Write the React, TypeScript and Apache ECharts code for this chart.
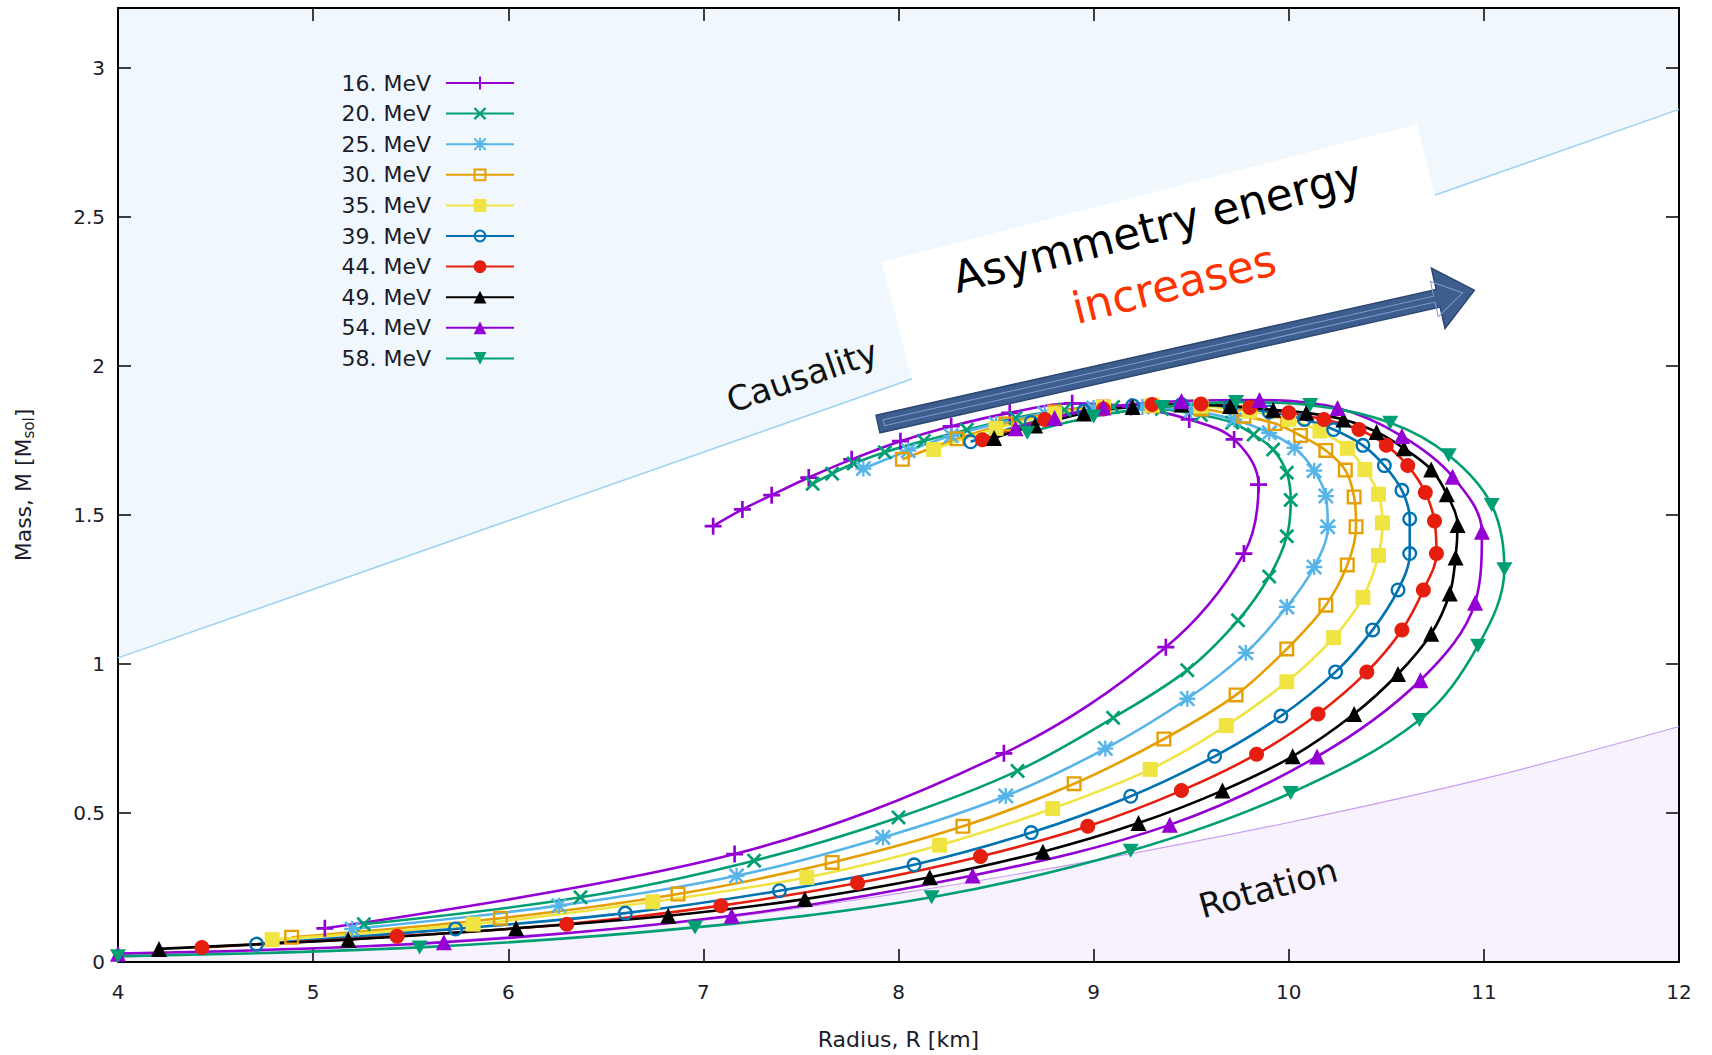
import React, { useEffect, useRef } from "react";
import * as echarts from "echarts";

// ---------- data (R in km, M in solar masses) ----------
const seriesNames = ["16. MeV", "20. MeV", "25. MeV", "30. MeV", "35. MeV", "39. MeV", "44. MeV", "49. MeV", "54. MeV", "58. MeV"];
const seriesColors = ["#9400d3", "#009e73", "#56b4e9", "#e69f00", "#f0e442", "#0072b2", "#e51e10", "#000000", "#9400d3", "#009e73"];

const mr16 = [[5.06,0.113],[7.16,0.362],[8.54,0.700],[9.37,1.056],[9.77,1.370],[9.845,1.601],[9.72,1.753],[9.49,1.820],[9.19,1.862],[8.89,1.874],[8.57,1.842],[8.27,1.797],[8.01,1.747],[7.76,1.686],[7.54,1.625],[7.35,1.566],[7.20,1.518],[7.05,1.462]];
const mr20 = [[5.26,0.127],[6.37,0.217],[7.26,0.340],[8.0,0.485],[8.61,0.641],[9.10,0.819],[9.48,0.979],[9.74,1.146],[9.90,1.293],[9.99,1.428],[10.01,1.550],[9.99,1.641],[9.92,1.719],[9.82,1.769],[9.71,1.809],[9.55,1.835],[9.35,1.855],[9.1,1.862],[8.85,1.852],[8.6,1.825],[8.35,1.785],[8.13,1.748],[7.93,1.71],[7.77,1.672],[7.66,1.638],[7.56,1.604]];
const mr25 = [[5.20,0.111],[6.26,0.189],[7.17,0.289],[7.92,0.418],[8.55,0.557],[9.06,0.716],[9.48,0.883],[9.78,1.037],[9.99,1.191],[10.13,1.325],[10.20,1.460],[10.19,1.563],[10.13,1.648],[10.03,1.725],[9.9,1.775],[9.72,1.82],[9.5,1.85],[9.25,1.862],[9.0,1.858],[8.75,1.84],[8.5,1.805],[8.27,1.765],[8.05,1.715],[7.82,1.655]];
const mr30 = [[4.89,0.083],[5.96,0.147],[6.87,0.228],[7.66,0.334],[8.33,0.455],[8.90,0.598],[9.36,0.748],[9.73,0.896],[9.99,1.050],[10.19,1.197],[10.30,1.332],[10.345,1.460],[10.335,1.560],[10.29,1.650],[10.19,1.716],[10.06,1.766],[9.93,1.806],[9.77,1.831],[9.55,1.855],[9.3,1.866],[9.05,1.862],[8.8,1.845],[8.55,1.805],[8.3,1.755],[8.02,1.686]];
const mr35 = [[4.79,0.075],[5.82,0.127],[6.74,0.202],[7.53,0.284],[8.21,0.392],[8.79,0.515],[9.29,0.646],[9.68,0.793],[9.99,0.940],[10.23,1.088],[10.38,1.223],[10.46,1.364],[10.48,1.473],[10.46,1.569],[10.39,1.652],[10.30,1.723],[10.16,1.781],[10.0,1.82],[9.8,1.848],[9.55,1.864],[9.3,1.868],[9.05,1.86],[8.8,1.838],[8.5,1.79],[8.18,1.719]];
const mr39 = [[4.71,0.060],[5.73,0.111],[6.60,0.164],[7.39,0.239],[8.08,0.326],[8.68,0.434],[9.19,0.556],[9.62,0.690],[9.96,0.825],[10.24,0.973],[10.43,1.114],[10.56,1.248],[10.62,1.370],[10.62,1.486],[10.58,1.582],[10.49,1.665],[10.38,1.733],[10.23,1.786],[10.08,1.820],[9.9,1.845],[9.7,1.862],[9.45,1.87],[9.2,1.866],[8.95,1.848],[8.68,1.81],[8.37,1.745]];
const mr44 = [[4.43,0.049],[5.43,0.086],[6.30,0.127],[7.09,0.189],[7.79,0.265],[8.42,0.354],[8.97,0.455],[9.45,0.575],[9.835,0.697],[10.15,0.832],[10.40,0.973],[10.58,1.114],[10.69,1.248],[10.757,1.370],[10.747,1.479],[10.70,1.575],[10.61,1.665],[10.50,1.733],[10.36,1.786],[10.18,1.820],[10.0,1.842],[9.8,1.86],[9.55,1.872],[9.3,1.87],[9.05,1.855],[8.75,1.82],[8.43,1.752]];
const mr49 = [[4.21,0.044],[5.18,0.075],[6.04,0.113],[6.82,0.155],[7.52,0.211],[8.16,0.284],[8.74,0.370],[9.23,0.466],[9.66,0.575],[10.02,0.690],[10.335,0.832],[10.56,0.966],[10.73,1.101],[10.825,1.236],[10.855,1.357],[10.865,1.466],[10.81,1.569],[10.73,1.652],[10.59,1.723],[10.45,1.778],[10.28,1.820],[10.09,1.842],[9.92,1.852],[9.7,1.865],[9.45,1.87],[9.2,1.862],[8.95,1.84],[8.7,1.80],[8.49,1.758]];
const mr54 = [[4.0,0.028],[5.67,0.066],[7.145,0.155],[8.38,0.290],[9.39,0.460],[10.145,0.689],[10.675,0.945],[10.955,1.205],[10.99,1.443],[10.84,1.628],[10.58,1.764],[10.25,1.858],[9.85,1.885],[9.45,1.882],[9.05,1.86],[8.8,1.825],[8.6,1.79]];
const mr58 = [[4.0,0.019],[5.546,0.049],[6.957,0.116],[8.17,0.217],[9.19,0.373],[10.01,0.567],[10.67,0.812],[10.97,1.061],[11.105,1.317],[11.04,1.533],[10.82,1.700],[10.52,1.809],[10.11,1.868],[9.73,1.878],[9.35,1.862],[9.0,1.83],[8.66,1.775]];

// shaded constraint regions
const causalityLine = [[4, 1.02], [12, 2.86]];
const rotationLine = [[4,0.022],[5,0.045],[6,0.085],[7,0.14],[8,0.23],[9,0.34],[10,0.468],[11,0.615],[12,0.79]];

// axis ranges / ticks
const xMin = 4, xMax = 12, xStep = 1;
const yMin = 0, yMax = 3.2, yStep = 0.5;

// ---------- marker shapes ----------
const PLUS = "path://M6.75,0H9.25V6.75H16V9.25H9.25V16H6.75V9.25H0V6.75H6.75Z";
const CROSS = "path://M0,1.8L1.8,0L7,5.2L12.2,0L14,1.8L8.8,7L14,12.2L12.2,14L7,8.8L1.8,14L0,12.2L5.2,7Z";
const STAR = "path://M6,0H8V6H14V8H8V14H6V8H0V6H6Z M0,1.6L1.6,0L7,5.4L12.4,0L14,1.6L8.6,7L14,12.4L12.4,14L7,8.6L1.6,14L0,12.4L5.4,7Z";
const OPEN_SQ = "path://M0,0H14V14H0Z M2.2,2.2V11.8H11.8V2.2Z";
const OPEN_CIRC = "path://M7,0A7,7,0,1,1,7,14A7,7,0,1,1,7,0Z M7,2.2A4.8,4.8,0,1,0,7,11.8A4.8,4.8,0,1,0,7,2.2Z";
const DOWN_TRI = "path://M0,0H15L7.5,13Z";

const seriesData = [mr16, mr20, mr25, mr30, mr35, mr39, mr44, mr49, mr54, mr58];
const seriesSymbols = [PLUS, CROSS, STAR, OPEN_SQ, "rect", OPEN_CIRC, "circle", "triangle", "triangle", DOWN_TRI];
const seriesSymbolSizes: any[] = [17, 15, 16, 15, 15, 15, 15, 16, 16, [16, 14]];

const FONT = "DejaVu Sans";

export default function App() {
  const ref = useRef<HTMLDivElement>(null);

  useEffect(() => {
    if (!ref.current) return;
    const chart = echarts.init(ref.current, undefined, { renderer: "svg" });

    const curveSeries = seriesNames.map((name, i) => ({
      name,
      type: "line",
      data: seriesData[i],
      smooth: 0.35,
      symbol: seriesSymbols[i],
      symbolSize: seriesSymbolSizes[i],
      showAllSymbol: true,
      lineStyle: { width: 2.6, color: seriesColors[i] },
      itemStyle: { color: seriesColors[i] },
      clip: true,
      z: 3,
    }));

    const axisCommon = {
      type: "value",
      axisLine: { show: true, onZero: false, lineStyle: { color: "#000", width: 2 } },
      axisTick: { show: true, inside: true, length: 13, lineStyle: { color: "#000", width: 1.5 } },
      splitLine: { show: false },
    };

    const option: any = {
      animation: false,
      backgroundColor: "#ffffff",
      grid: { left: 118, right: 33, top: 8, bottom: 92 },
      legend: {
        data: seriesNames,
        orient: "vertical",
        right: 1197,
        top: 72,
        align: "right",
        itemWidth: 68,
        itemHeight: 16,
        itemGap: 8.6,
        padding: 0,
        textStyle: { fontFamily: FONT, fontSize: 22, color: "#1c1c2a", padding: [0, 10, 0, 0] },
      },
      xAxis: [
        {
          ...axisCommon,
          position: "bottom",
          min: xMin, max: xMax, interval: xStep,
          name: "Radius, R [km]",
          nameLocation: "middle",
          nameGap: 66,
          nameTextStyle: { fontFamily: FONT, fontSize: 22, color: "#1c1c2a" },
          axisLabel: { fontFamily: FONT, fontSize: 20, color: "#1c1c2a", margin: 20 },
        },
        {
          ...axisCommon,
          position: "top",
          min: xMin, max: xMax, interval: xStep,
          axisLabel: { show: false },
        },
      ],
      yAxis: [
        {
          ...axisCommon,
          position: "left",
          min: yMin, max: yMax, interval: yStep,
          name: "Mass, M [M{s|sol}]",
          nameLocation: "middle",
          nameGap: 82,
          nameTextStyle: {
            fontFamily: FONT, fontSize: 22, color: "#1c1c2a",
            rich: { s: { fontFamily: FONT, fontSize: 15, color: "#1c1c2a", padding: [10, 0, 0, 0] } },
          },
          axisLabel: { fontFamily: FONT, fontSize: 20, color: "#1c1c2a", margin: 13, showMaxLabel: false },
        },
        {
          ...axisCommon,
          position: "right",
          min: yMin, max: yMax, interval: yStep,
          axisLabel: { show: false },
        },
      ],
      series: [
        {
          name: "causality",
          type: "line",
          data: causalityLine,
          symbol: "none",
          silent: true,
          lineStyle: { color: "#9fd3f0", width: 1.5 },
          areaStyle: { color: "#f0f8fd", origin: "end", opacity: 1 },
          z: 0,
        },
        {
          name: "rotation",
          type: "line",
          data: rotationLine,
          smooth: 0.4,
          symbol: "none",
          silent: true,
          lineStyle: { color: "#c99cf2", width: 1.2 },
          areaStyle: { color: "#f7f2fe", origin: "start", opacity: 1 },
          z: 0,
        },
        ...curveSeries,
      ],
      graphic: [
        {
          type: "rect",
          x: 882, y: 262,
          rotation: (14.4 * Math.PI) / 180,
          shape: { x: 0, y: 0, width: 552, height: 140 },
          style: { fill: "#ffffff" },
          silent: true,
          z: 1,
        },
        {
          type: "group",
          x: 878, y: 424,
          rotation: (12.67 * Math.PI) / 180,
          z: 10,
          children: [
            {
              type: "polygon",
              shape: { points: [[0, -9], [574, -9], [574, -31], [611, 0], [574, 31], [574, 9], [0, 9]] },
              style: { fill: "#3d5e8e", stroke: "#2c4772", lineWidth: 1.5 },
              z: 10,
            },
            {
              type: "polygon",
              shape: { points: [[6, -3], [570, -3], [570, -18], [599, 0], [570, 18], [570, 3], [6, 3]] },
              style: { fill: "none", stroke: "#7f9dd0", lineWidth: 1 },
              z: 11,
            },
          ],
        },
        {
          type: "text",
          x: 802, y: 376,
          rotation: (19 * Math.PI) / 180,
          style: { text: "Causality", fontFamily: FONT, fontSize: 34, fill: "#111111", align: "center", verticalAlign: "middle" },
          z: 10,
        },
        {
          type: "text",
          x: 1268, y: 888,
          rotation: (15.5 * Math.PI) / 180,
          style: { text: "Rotation", fontFamily: FONT, fontSize: 34, fill: "#111111", align: "center", verticalAlign: "middle" },
          z: 10,
        },
        {
          type: "text",
          x: 1157, y: 226,
          rotation: (14.4 * Math.PI) / 180,
          style: { text: "Asymmetry energy", fontFamily: FONT, fontSize: 44, fill: "#000000", align: "center", verticalAlign: "middle" },
          z: 10,
        },
        {
          type: "text",
          x: 1174, y: 284,
          rotation: (14 * Math.PI) / 180,
          style: { text: "increases", fontFamily: FONT, fontSize: 44, fill: "#ff3300", align: "center", verticalAlign: "middle" },
          z: 10,
        },
      ],
    };

    chart.setOption(option);
    return () => chart.dispose();
  }, []);

  return (
    <div
      ref={ref}
      style={{ position: "absolute", left: 0, top: 0, width: 1712, height: 1055 }}
    />
  );
}
